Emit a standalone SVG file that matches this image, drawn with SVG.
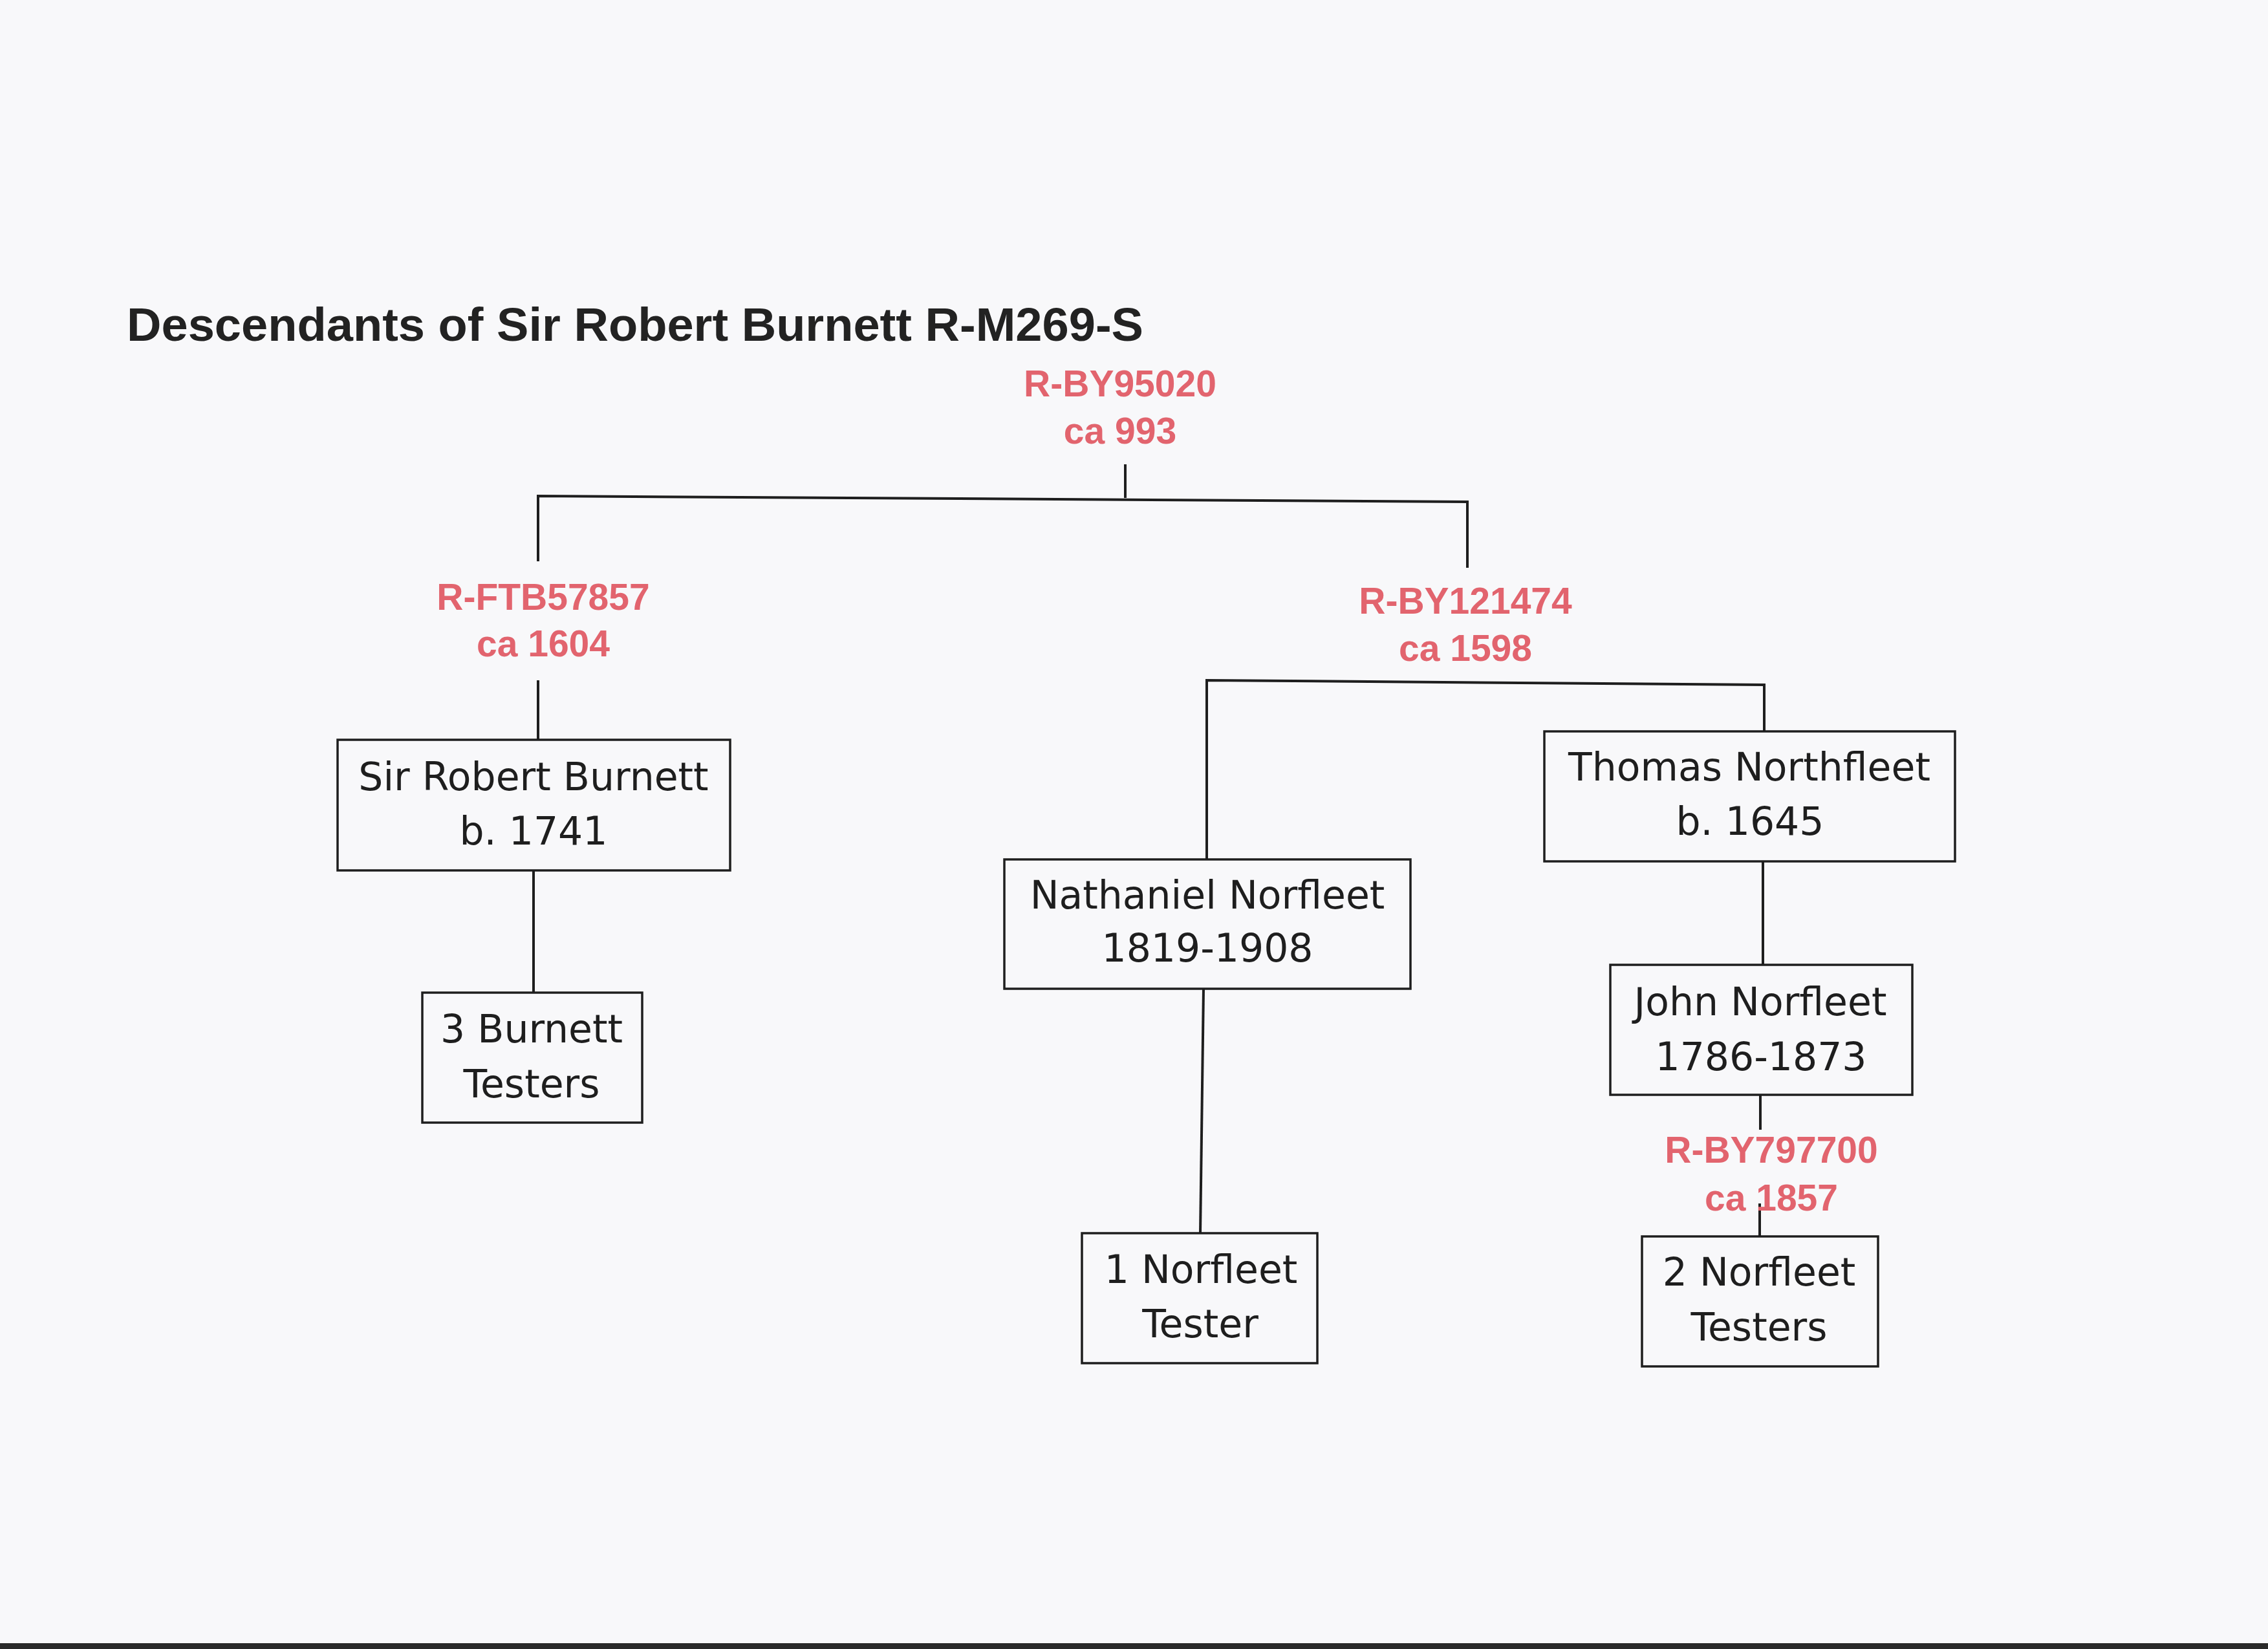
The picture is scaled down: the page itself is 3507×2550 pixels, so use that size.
<svg xmlns="http://www.w3.org/2000/svg" width="3507" height="2550" viewBox="0 0 3507 2550">
<style>
.bg{fill:#f8f8fa}
.box{fill:none;stroke:#1e1e1e;stroke-width:3.5}
.con{fill:none;stroke:#1e1e1e;stroke-width:4;stroke-linejoin:miter}
.node{font-family:"DejaVu Sans","Liberation Sans",sans-serif;font-size:60px;fill:#1e1e1e;text-anchor:middle}
.hap{font-family:"Liberation Sans",Arial,sans-serif;font-weight:bold;font-size:57px;fill:#e2646e;text-anchor:middle}
.title{font-family:"Liberation Sans",Arial,sans-serif;font-weight:bold;font-size:72px;fill:#222}
</style>
<rect class="bg" x="0" y="0" width="3507" height="2550"/>
<rect x="0" y="2541" width="3507" height="9" fill="#2a2a2a"/>
<text class="title" x="196" y="527" textLength="1572" lengthAdjust="spacingAndGlyphs">Descendants of Sir Robert Burnett R-M269-S</text>

<g id="connectors">
<path class="con" d="M1740 718 V770"/>
<path class="con" d="M832 868 L832 767 L2269 776 L2269 878"/>
<path class="con" d="M832 1052 V1144"/>
<path class="con" d="M825 1346 V1535"/>
<path class="con" d="M1866 1329 L1866 1052 L2728 1059 L2728 1131"/>
<path class="con" d="M1861 1529 L1856 1907"/>
<path class="con" d="M2726 1332 V1492"/>
<path class="con" d="M2722 1693 V1747"/>
<path class="con" d="M2721 1861 V1912"/>
</g>

<g id="hap-BY95020">
<text class="hap" x="1732" y="613">R-BY95020</text>
<text class="hap" x="1732" y="686">ca 993</text>
</g>
<g id="hap-FTB57857">
<text class="hap" x="840" y="943">R-FTB57857</text>
<text class="hap" x="840" y="1015">ca 1604</text>
</g>
<g id="hap-BY121474">
<text class="hap" x="2266" y="949">R-BY121474</text>
<text class="hap" x="2266" y="1022">ca 1598</text>
</g>
<g id="hap-BY797700">
<text class="hap" x="2739" y="1798">R-BY797700</text>
<text class="hap" x="2739" y="1872">ca 1857</text>
</g>

<g id="sir-robert-burnett">
<rect class="box" x="522" y="1144" width="607" height="202"/>
<text class="node" x="825" y="1222">Sir Robert Burnett</text>
<text class="node" x="825" y="1306">b. 1741</text>
</g>
<g id="burnett-testers">
<rect class="box" x="653" y="1535" width="340" height="201"/>
<text class="node" x="822" y="1612">3 Burnett</text>
<text class="node" x="822" y="1697">Testers</text>
</g>
<g id="nathaniel-norfleet">
<rect class="box" x="1553" y="1329" width="628" height="200"/>
<text class="node" x="1867" y="1405">Nathaniel Norfleet</text>
<text class="node" x="1867" y="1487">1819-1908</text>
</g>
<g id="norfleet-tester">
<rect class="box" x="1673" y="1907" width="364" height="201"/>
<text class="node" x="1857" y="1984">1 Norfleet</text>
<text class="node" x="1856" y="2068">Tester</text>
</g>
<g id="thomas-northfleet">
<rect class="box" x="2388" y="1131" width="635" height="201"/>
<text class="node" x="2705" y="1207">Thomas Northfleet</text>
<text class="node" x="2706" y="1291">b. 1645</text>
</g>
<g id="john-norfleet">
<rect class="box" x="2490" y="1492" width="467" height="201"/>
<text class="node" x="2722" y="1570">John Norfleet</text>
<text class="node" x="2723" y="1655">1786-1873</text>
</g>
<g id="norfleet-testers">
<rect class="box" x="2539" y="1912" width="365" height="201"/>
<text class="node" x="2720" y="1988">2 Norfleet</text>
<text class="node" x="2720" y="2073">Testers</text>
</g>
</svg>
